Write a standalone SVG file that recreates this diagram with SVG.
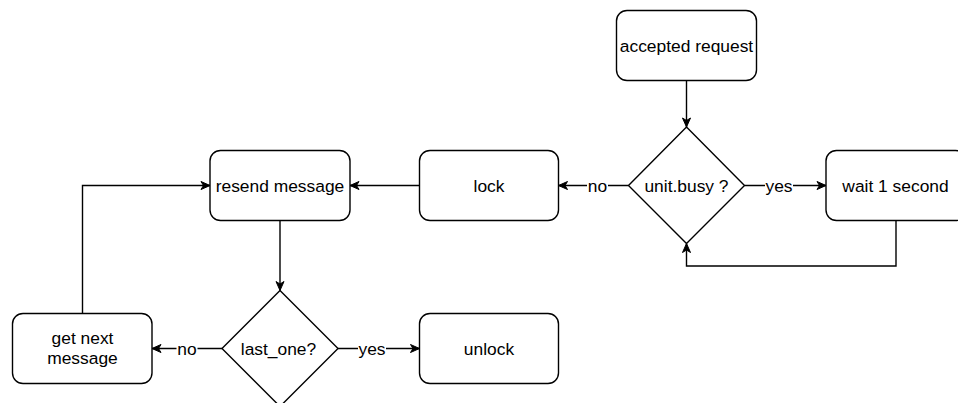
<svg xmlns="http://www.w3.org/2000/svg" width="958" height="403" viewBox="0 0 958 403">
  <style>
    .box { fill: #ffffff; stroke: #000000; stroke-width: 1.4; }
    .lbl { font-family: "Liberation Sans", Arial, sans-serif; font-size: 17.4px; fill: #000000; text-anchor: middle; }
    .edge { fill: none; stroke: #000000; stroke-width: 1.4; marker-end: url(#arrow); }
    .tagbg { fill: #ffffff; }
  </style>
  <defs>
    <marker id="arrow" markerUnits="userSpaceOnUse" markerWidth="12" markerHeight="10" refX="9" refY="4" orient="auto" overflow="visible">
      <path d="M0,0 L9,4 L0,8 L2.5,4 Z" fill="#000000" stroke="#000000" stroke-width="1"/>
    </marker>
  </defs>
  <rect width="958" height="403" fill="#ffffff"/>

  <!-- connectors -->
  <g id="connectors">
    <path class="edge" d="M686.5,80.5 L686.5,127"/>
    <path class="edge" d="M628.5,185.5 L558.5,185.5"/>
    <path class="edge" d="M744.5,185.5 L826,185.5"/>
    <path class="edge" d="M896,220.5 L896,266 L686.5,266 L686.5,243.5"/>
    <path class="edge" d="M419.5,185.5 L350,185.5"/>
    <path class="edge" d="M280,220.5 L280,290.5"/>
    <path class="edge" d="M222,348.5 L152,348.5"/>
    <path class="edge" d="M338,348.5 L419.5,348.5"/>
    <path class="edge" d="M82.5,313.5 L82.5,185.5 L210,185.5"/>
    <!-- branch labels -->
    <g id="edge-labels">
      <rect class="tagbg" x="587" y="177" width="21" height="17"/>
      <text class="lbl" x="597.5" y="192">no</text>
      <rect class="tagbg" x="765" y="177" width="28" height="17"/>
      <text class="lbl" x="779" y="192">yes</text>
      <rect class="tagbg" x="176.5" y="340" width="21" height="17"/>
      <text class="lbl" x="187" y="355">no</text>
      <rect class="tagbg" x="358" y="340" width="28" height="17"/>
      <text class="lbl" x="372" y="355">yes</text>
    </g>
  </g>

  <!-- nodes -->
  <g id="accepted-request">
    <rect class="box" x="616.5" y="10.5" width="140" height="70" rx="10.5"/>
    <text class="lbl" x="686.5" y="52">accepted request</text>
  </g>
  <g id="unit-busy">
    <path class="box" d="M686.5,127 L744.5,185.5 L686.5,243.5 L628.5,185.5 Z"/>
    <text class="lbl" x="686.5" y="192">unit.busy ?</text>
  </g>
  <g id="wait-1-second">
    <rect class="box" x="826" y="150.5" width="140" height="70" rx="10.5"/>
    <text class="lbl" x="895.5" y="192">wait 1 second</text>
  </g>
  <g id="lock">
    <rect class="box" x="419.5" y="150.5" width="139" height="70" rx="10.5"/>
    <text class="lbl" x="489" y="192">lock</text>
  </g>
  <g id="resend-message">
    <rect class="box" x="210" y="150.5" width="140" height="70" rx="10.5"/>
    <text class="lbl" x="280" y="192">resend message</text>
  </g>
  <g id="last-one">
    <path class="box" d="M280,290.5 L338,348.5 L280,406.5 L222,348.5 Z"/>
    <text class="lbl" x="278.5" y="355">last_one?</text>
  </g>
  <g id="get-next-message">
    <rect class="box" x="12.5" y="313.5" width="139.5" height="70" rx="10.5"/>
    <text class="lbl" x="82.5" y="343.5">get next</text>
    <text class="lbl" x="82.5" y="363.5">message</text>
  </g>
  <g id="unlock">
    <rect class="box" x="419.5" y="313.5" width="139" height="70" rx="10.5"/>
    <text class="lbl" x="489" y="355">unlock</text>
  </g>
</svg>
